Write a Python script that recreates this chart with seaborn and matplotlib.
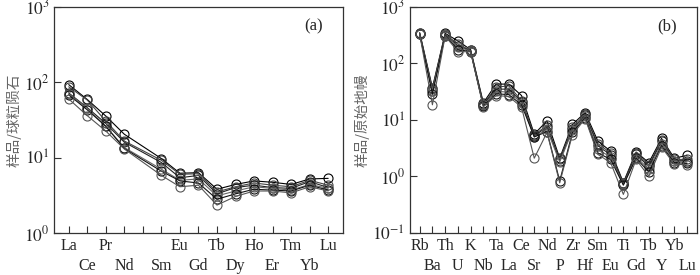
import matplotlib
matplotlib.use("Agg")
import matplotlib.pyplot as plt
import seaborn as sns
import numpy as np

# ---------------- data ----------------
ree_labels = ["La", "Ce", "Pr", "Nd", "", "Sm", "Eu", "Gd", "Tb", "Dy", "Ho", "Er", "Tm", "Yb", "Lu"]
ree_elems = ["La", "Ce", "Pr", "Nd", "Sm", "Eu", "Gd", "Tb", "Dy", "Ho", "Er", "Tm", "Yb", "Lu"]
ree_s1 = [93, 59, 35.6, 20.4, 9.7, 6.2, 6.3, 3.8, 4.4, 4.9, 4.7, 4.4, 5.2, 5.3]
ree_s2 = [87, 58, 30.5, 16.6, 9.2, 6.0, 6.1, 3.5, 4.1, 4.6, 4.3, 4.1, 5.0, 4.3]
ree_s3 = [72, 46, 28.4, 16.0, 8.6, 5.4, 5.8, 3.3, 4.0, 4.3, 4.0, 3.9, 4.8, 4.0]
ree_s4 = [70, 45, 26.0, 13.6, 7.0, 5.0, 5.2, 3.1, 3.6, 4.1, 3.9, 3.7, 4.4, 3.9]
ree_s5 = [68, 43, 26.0, 13.2, 6.6, 4.9, 4.6, 2.8, 3.3, 3.8, 3.7, 3.6, 4.3, 3.7]
ree_s6 = [60, 36, 22.5, 13.0, 5.8, 4.1, 4.3, 2.34, 3.05, 3.6, 3.6, 3.4, 4.1, 3.6]

te_labels = ["Rb", "Ba", "Th", "U", "K", "Nb", "Ta", "La", "Ce", "Sr", "Nd",
             "P", "Zr", "Hf", "Sm", "Eu", "Ti", "Gd", "Tb", "Y", "Yb", "Lu"]
te_s1 = [350, 37, 340, 250, 175, 20, 43, 43, 27, 5.6, 9.6, 2.1, 8.3, 13.5, 4.2, 2.8, 0.78, 2.7, 1.75, 4.7, 2.1, 2.35]
te_s2 = [340, 35, 330, 220, 170, 19, 38, 40, 22, 5.4, 8.0, 2.0, 7.5, 12.5, 3.8, 2.6, 0.75, 2.6, 1.6, 4.4, 2.0, 2.0]
te_s3 = [335, 33, 320, 205, 168, 18.5, 35, 35, 21, 5.2, 7.5, 1.9, 6.8, 12.0, 3.5, 2.4, 0.74, 2.45, 1.5, 4.2, 1.9, 1.9]
te_s4 = [330, 32, 315, 195, 165, 18, 32, 31, 20, 5.0, 6.8, 1.8, 6.5, 11.5, 3.0, 2.2, 0.72, 2.2, 1.35, 3.8, 1.85, 1.8]
te_s5 = [325, 28.5, 310, 175, 162, 17.5, 29, 28, 18.5, 5.0, 6.2, 0.83, 6.0, 11.0, 2.6, 2.0, 0.70, 2.1, 1.2, 3.5, 1.75, 1.7]
te_s6 = [330, 18.5, 305, 162, 160, 17, 27, 26, 16.8, 2.1, 6.0, 0.77, 5.5, 10.5, 2.45, 1.75, 0.48, 2.0, 1.0, 3.3, 1.65, 1.6]

ylabel_a = "样品/球粒陨石"
ylabel_b = "样品/原始地幔"

# ---------------- style ----------------
sns.set_style("ticks")
plt.rcParams["font.family"] = ["Liberation Serif", "Noto Sans CJK SC", "DejaVu Sans"]
plt.rcParams["mathtext.fontset"] = "stix"

line_colors = ["#000000", "#444444", "#222222", "#666666", "#111111", "#555555"]

fig = plt.figure(figsize=(7.0, 2.75), dpi=100)
ax_a = fig.add_axes([0.077, 0.153, 0.413, 0.822])
ax_b = fig.add_axes([0.585, 0.153, 0.411, 0.822])


def draw(ax, xs, series):
    for s, c in zip(series, line_colors):
        sns.lineplot(x=xs, y=s, ax=ax, color=c, lw=0.8, marker="o", markersize=6.5,
                     markerfacecolor="none", markeredgecolor=c, markeredgewidth=0.8,
                     legend=False)


def style(ax, labels, ylim, yticks, ylabel, tag):
    ax.set_yscale("log")
    ax.set_ylim(*ylim)
    ax.set_yticks(yticks)
    ax.set_yticklabels([f"$10^{{{int(np.log10(t))}}}$" for t in yticks], fontsize=12.5)
    ax.yaxis.set_minor_locator(matplotlib.ticker.NullLocator())
    n = len(labels)
    ax.set_xlim(-0.8, n - 0.2)
    even = list(range(0, n, 2))
    odd = list(range(1, n, 2))
    ax.set_xticks(even)
    ax.set_xticklabels([labels[i] for i in even], fontsize=11.5)
    ax.set_xticks(odd, minor=True)
    ax.set_xticklabels([labels[i] for i in odd], minor=True, fontsize=11.5)
    ax.tick_params(axis="both", which="both", direction="in", length=5, width=0.8, color="#333333")
    ax.tick_params(axis="x", which="major", pad=4)
    ax.tick_params(axis="x", which="minor", pad=18)
    ax.tick_params(axis="y", pad=3)
    for sp in ax.spines.values():
        sp.set_visible(True)
        sp.set_linewidth(0.9)
        sp.set_color("#333333")
    ax.set_ylabel(ylabel, fontsize=10.5, color="#666666", family=["Noto Sans CJK SC"], labelpad=2)
    ax.text(0.93, 0.95, tag, transform=ax.transAxes, ha="right", va="top", fontsize=12)


xs_a = [ree_labels.index(e) for e in ree_elems]
draw(ax_a, xs_a, [ree_s1, ree_s2, ree_s3, ree_s4, ree_s5, ree_s6])
style(ax_a, ree_labels, (1, 1000), [1, 10, 100, 1000], ylabel_a, "(a)")

xs_b = list(range(len(te_labels)))
draw(ax_b, xs_b, [te_s1, te_s2, te_s3, te_s4, te_s5, te_s6])
style(ax_b, te_labels, (0.1, 1000), [0.1, 1, 10, 100, 1000], ylabel_b, "(b)")

fig.savefig("out.png", dpi=100)
